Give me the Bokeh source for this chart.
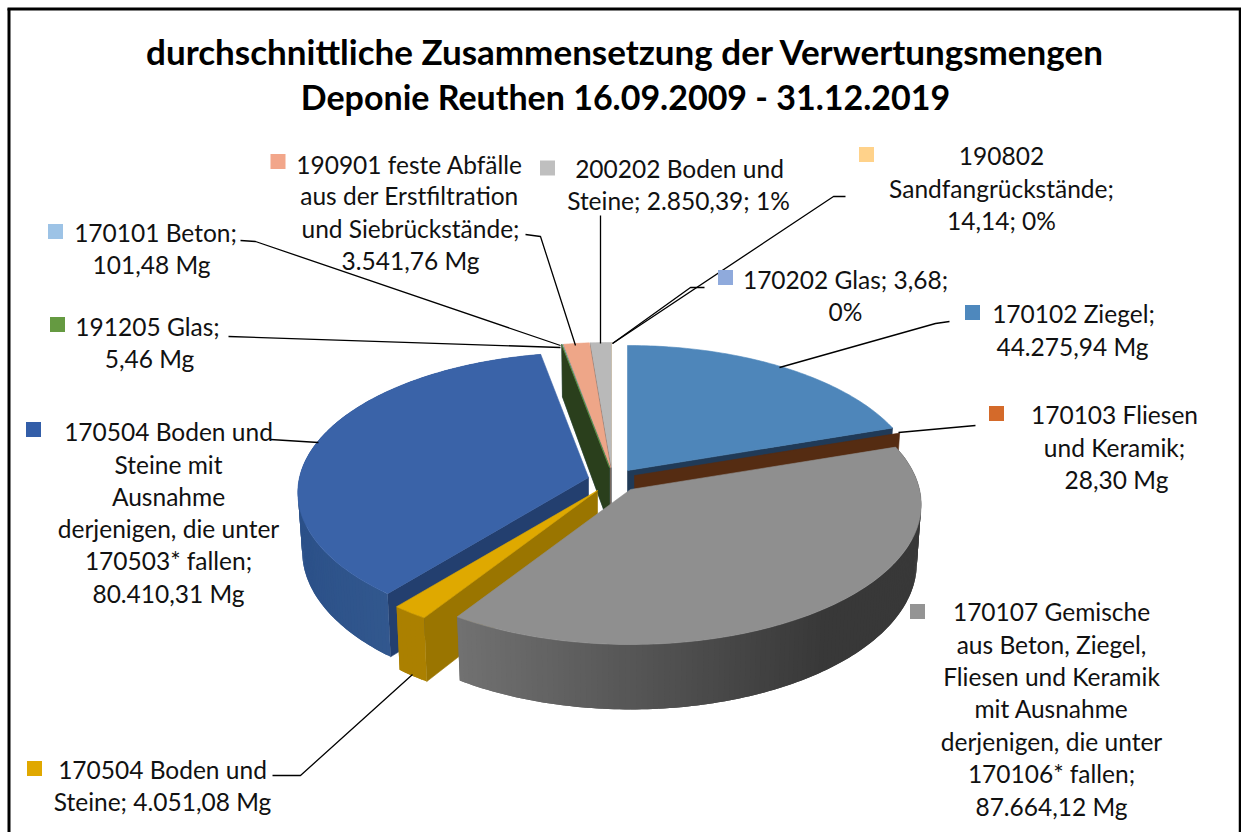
from math import sin, cos, radians
from bokeh.plotting import figure
from bokeh.models import Range1d
from bokeh.core.properties import value
from bokeh.embed import file_html
from bokeh.resources import INLINE

# ---- data ---------------------------------------------------------------
codes = ["170102", "170103", "170107", "170504a", "170504b", "191205",
         "170101", "190901", "200202", "190802", "170202"]
amounts = [44275.94, 28.30, 87664.12, 4051.08, 80410.31, 5.46,
           101.48, 3541.76, 2850.39, 14.14, 3.68]
title_lines = ["durchschnittliche Zusammensetzung der Verwertungsmengen",
               "Deponie Reuthen 16.09.2009 - 31.12.2019"]
labels = {
    "170102": ["170102 Ziegel;", "44.275,94 Mg"],
    "170103": ["170103 Fliesen", "und Keramik;", "28,30 Mg"],
    "170107": ["170107 Gemische", "aus Beton, Ziegel,", "Fliesen und Keramik", "mit Ausnahme",
               "derjenigen, die unter", "170106* fallen;", "87.664,12 Mg"],
    "170504a": ["170504 Boden und", "Steine; 4.051,08 Mg"],
    "170504b": ["170504 Boden und", "Steine mit", "Ausnahme", "derjenigen, die unter",
                "170503* fallen;", "80.410,31 Mg"],
    "191205": ["191205 Glas;", "5,46 Mg"],
    "170101": ["170101 Beton;", "101,48 Mg"],
    "190901": ["190901 feste Abfälle", "aus der Erstfiltration", "und Siebrückstände;", "3.541,76 Mg"],
    "200202": ["200202 Boden und", "Steine; 2.850,39; 1%"],
    "190802": ["190802", "Sandfangrückstände;", "14,14; 0%"],
    "170202": ["170202 Glas; 3,68;", "0%"],
}

# ---- styling ---------------------------------------------------------------
top_col = {"170102": "#4e86ba", "170103": "#c8622a", "170107": "#8f8f8f", "170504a": "#dfa900",
           "170504b": "#3a63a8", "191205": "#5f9440", "170101": "#9dc3e6", "190901": "#eea688",
           "200202": "#b9b9b9", "190802": "#ffd28a", "170202": "#8faadc"}
face_col = {"170102": "#203a57", "170103": "#552c12", "170107": "#555555", "170504a": "#9a7500",
            "170504b": "#233f6f", "191205": "#2a3f1c", "170101": "#4a6a8a", "190901": "#7a6a60",
            "200202": "#666666", "190802": "#6b4a2e", "170202": "#5a4a3e"}
swatch_col = {"170102": "#4e88bd", "170103": "#d46a2a", "170107": "#949494", "170504a": "#e0a800",
              "170504b": "#335ea8", "191205": "#659a41", "170101": "#9dc3e6", "190901": "#f2a68a",
              "200202": "#bfbfbf", "190802": "#ffd28a", "170202": "#8faadc"}
apex = {"170102": (627, 470), "170103": (634, 475), "170107": (630, 489), "170504a": (597, 490),
        "170504b": (588, 477), "191205": (609, 467), "170101": (609, 467), "190901": (610, 467),
        "200202": (611, 467), "190802": (611, 467), "170202": (611, 467)}
swatch_xy = {"170102": (972, 312), "170103": (996, 413), "170107": (917, 611), "170504a": (34, 768),
             "170504b": (33, 429), "191205": (57, 324), "170101": (55, 231), "190901": (277.5, 161),
             "200202": (547, 167.5), "190802": (866, 154), "170202": (725, 277)}
label_xy = {
    "170102": [(1073, 313), (1072, 346)],
    "170103": [(1114, 414), (1114, 447), (1116, 479)],
    "170107": [(1051, 611), (1051, 644), (1051, 676), (1051, 708), (1051, 741), (1051, 773), (1051, 806)],
    "170504a": [(162, 769), (162, 801)],
    "170504b": [(168, 431), (168, 464), (168, 496), (168, 528), (168, 560), (168, 593)],
    "191205": [(147, 326), (149, 358)],
    "170101": [(155, 232), (151, 264)],
    "190901": [(409, 164), (409, 195), (410, 228), (410, 260)],
    "200202": [(679, 168), (678, 200)],
    "190802": [(1001, 155), (1001, 188), (1001, 220)],
    "170202": [(845, 279), (845, 311)],
}
leaders = [
    ([525, 540, 575], [234, 236, 345]),
    ([600, 600], [215, 343]),
    ([845, 833, 612], [196, 196, 343]),
    ([704, 690, 612], [287, 287, 343]),
    ([240, 255, 560], [240, 241, 345]),
    ([228, 560], [336, 347]),
    ([949, 935, 779], [321, 323, 367]),
    ([975, 898], [425, 432]),
    ([270, 318], [439, 442]),
    ([412, 300, 272], [674, 775, 775]),
]

RX, RY, K, H, SHRINK = 289.0, 138.4, 0.107, 58.0, 0.985


def rim(code, deg, low=False):
    ax, ay = apex[code]
    X, Y = sin(radians(deg)), -cos(radians(deg))
    w = 1 - K * Y
    if low:
        return ax + RX * SHRINK * X / w, ay + RY * Y / w + H / w
    return ax + RX * X / w, ay + RY * Y / w


def arc_angles(a, b, step=1.0):
    n = max(1, int((b - a) / step))
    return [a + (b - a) * i / n for i in range(n + 1)]


def lerp_col(c0, c1, t):
    t = max(0.0, min(1.0, t))
    v = [int(int(c0[i:i + 2], 16) * (1 - t) + int(c1[i:i + 2], 16) * t) for i in (1, 3, 5)]
    return "#%02x%02x%02x" % tuple(v)


p = figure(width=1241, height=832, output_backend="svg", toolbar_location=None,
           x_range=Range1d(0, 1241), y_range=Range1d(832, 0), min_border=0)
p.axis.visible = False
p.grid.visible = False
p.outline_line_color = None
p.background_fill_color = "white"

total = sum(amounts)
spans = {}
acc = 0.0
for c, v in zip(codes, amounts):
    spans[c] = (acc, acc + v / total * 360.0)
    acc += v / total * 360.0


def add_poly(pts, col, stroke=True):
    p.patch([q[0] for q in pts], [q[1] for q in pts], fill_color=col,
            line_color=col if stroke else None, line_width=0.6)


def cut_face(code, deg):
    ax, ay = apex[code]
    a, b = rim(code, deg), rim(code, deg, True)
    add_poly([(ax, ay), a, b, (ax, ay + H)], face_col[code])


def side(code, a, b, c_left, c_right, x0, x1):
    angs = arc_angles(a, b)
    for i in range(len(angs) - 1):
        run = angs[i:i + 3]  # each strip overlaps the next, so no seams show
        pts = [rim(code, d) for d in run] + [rim(code, d, True) for d in reversed(run)]
        t = (pts[0][0] - x0) / (x1 - x0)
        add_poly(pts, lerp_col(c_left, c_right, t), stroke=False)


def top(code):
    a, b = spans[code]
    pts = [apex[code]] + [rim(code, d) for d in arc_angles(a, b)]
    add_poly(pts, top_col[code])


# painter's order: back slices first
cut_face("170102", spans["170102"][1])
top("170102")
cut_face("170103", spans["170103"][1])
for c in ["170202", "190802"]:
    top(c)
cut_face("200202", spans["200202"][0])
top("200202")
cut_face("190901", spans["190901"][0])
top("190901")
cut_face("170101", spans["170101"][0])
top("170101")
cut_face("191205", spans["191205"][0])
top("191205")

a, b = spans["170504b"]
cut_face("170504b", a)
side("170504b", a, b, "#2c5189", "#33598f", 298, 400)
top("170504b")

a, b = spans["170504a"]
cut_face("170504a", a)
side("170504a", a, b, "#ab8000", "#ab8000", 395, 425)
top("170504a")

a, b = spans["170107"]
side("170107", a, b, "#727272", "#383838", 457, 830)
top("170107")

# frame
p.line([8.5, 8.5], [8, 832], line_color="black", line_width=3)
p.line([7, 1241], [8.5, 8.5], line_color="black", line_width=3)
p.line([1239.5, 1239.5], [8, 832], line_color="black", line_width=2.5)

# leaders
for lx, ly in leaders:
    p.line(lx, ly, line_color="black", line_width=1.3)

# swatches
p.scatter([swatch_xy[c][0] for c in codes], [swatch_xy[c][1] for c in codes], marker="square", size=15,
          fill_color=[swatch_col[c] for c in codes], line_color=None)

# texts
tx, ty, tt = [], [], []
for c in codes:
    for (x, y), s in zip(label_xy[c], labels[c]):
        tx.append(x); ty.append(y); tt.append(s)
p.text(tx, ty, text=tt, text_font=value("Lato"), text_font_size="24.5px", text_color="#111111",
       text_align="center", text_baseline="middle")
p.text([625], [50], text=title_lines[:1], text_font=value("Lato"), text_font_style="bold",
       text_font_size="35px", text_color="black", text_align="center", text_baseline="middle")
p.text([625], [96], text=title_lines[1:], text_font=value("Lato"), text_font_style="bold",
       text_font_size="34px", text_color="black", text_align="center", text_baseline="middle")

open("out.html", "w").write(file_html(p, INLINE))
